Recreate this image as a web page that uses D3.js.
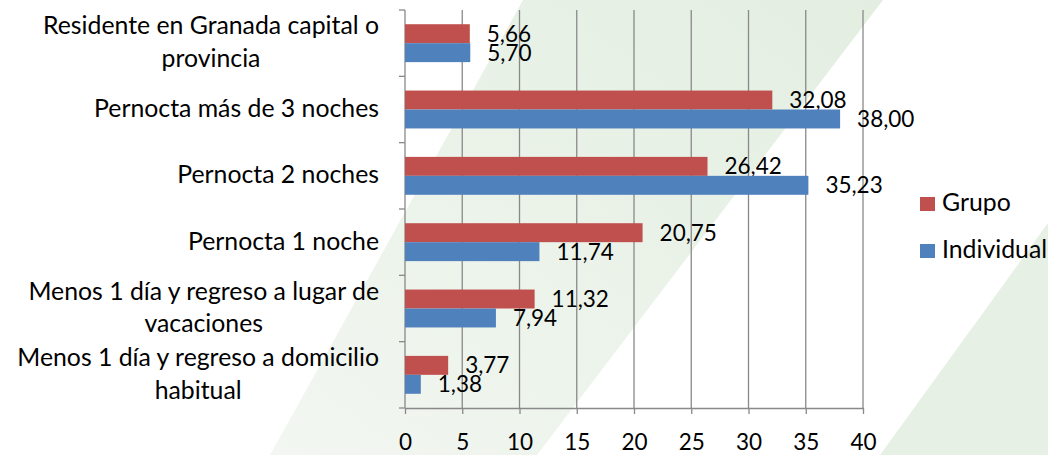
<!DOCTYPE html>
<html>
<head>
<meta charset="utf-8">
<script src="https://cdn.jsdelivr.net/npm/d3@7"></script>
<style>
  body { margin: 0; background: #fff; }
  svg { display: block; font-family: Lato, "Open Sans", sans-serif; }
</style>
</head>
<body>
<div id="chart"></div>
<script>
// Data (top to bottom as shown in the chart)
const categories = [
    "Residente en Granada capital o provincia",
    "Pernocta más de 3 noches",
    "Pernocta 2 noches",
    "Pernocta 1 noche",
    "Menos 1 día y regreso a lugar de vacaciones",
    "Menos 1 día y regreso a domicilio habitual"
];
// how each category label wraps
const categoryLines = [
    ["Residente en Granada capital o", "provincia"],
    ["Pernocta más de 3 noches"],
    ["Pernocta 2 noches"],
    ["Pernocta 1 noche"],
    ["Menos 1 día y regreso a lugar de", "vacaciones"],
    ["Menos 1 día y regreso a domicilio", "habitual"]
];
const series = ["Grupo", "Individual"];
const grupo = [5.66, 32.08, 26.42, 20.75, 11.32, 3.77];
const individual = [5.70, 38.00, 35.23, 11.74, 7.94, 1.38];
const xTicks = [0, 5, 10, 15, 20, 25, 30, 35, 40];

const colors = { "Grupo": "#C0504D", "Individual": "#4F81BD" };
const values = { "Grupo": grupo, "Individual": individual };

const width = 1048;
const height = 455;
const numSize = 22.5;   // digits
const labelSize = 24.8; // words

const svg = d3.select("#chart")
    .append("svg")
    .attr("width", width)
    .attr("height", height);

// background decoration (light green diagonal bands)
const defs = svg.append("defs");
const grad = defs.append("linearGradient")
    .attr("id", "band")
    .attr("x1", "1").attr("y1", "0")
    .attr("x2", "0").attr("y2", "1");
grad.append("stop").attr("offset", "0").attr("stop-color", "#e3eee1");
grad.append("stop").attr("offset", "1").attr("stop-color", "#f2f7f1");

svg.append("polygon")
    .attr("points", "523,0 883,0 537,455 270,455")
    .attr("fill", "url(#band)");
svg.append("polygon")
    .attr("points", "1048,223 1048,455 880,455")
    .attr("fill", "#e7f0e5");

// scales
const x = d3.scaleLinear().domain([0, 40]).range([405, 863]);
const y = d3.scaleBand().domain(categories).range([10, 408]);
const ySub = d3.scaleBand().domain(series).range([0, y.bandwidth()]).paddingOuter(0.75);

// vertical gridlines
svg.append("g")
    .selectAll("line")
    .data(xTicks.filter(d => d > 0))
    .enter()
    .append("line")
    .attr("x1", d => x(d))
    .attr("x2", d => x(d))
    .attr("y1", 10)
    .attr("y2", 408)
    .attr("stroke", "#898989")
    .attr("stroke-width", 1.3);

// x axis
const xAxis = svg.append("g")
    .attr("transform", "translate(0,408)")
    .call(d3.axisBottom(x).tickValues(xTicks).tickSize(6).tickSizeOuter(0).tickPadding(20));
xAxis.select(".domain").attr("stroke", "#898989").attr("stroke-width", 1.3);
xAxis.selectAll(".tick line").attr("stroke", "#898989").attr("stroke-width", 1.3);
xAxis.selectAll(".tick text")
    .attr("font-family", "Lato")
    .attr("font-size", numSize)
    .attr("fill", "#000")
    .attr("dy", "0.71em");

// y axis line with ticks at category boundaries
const boundaries = categories.map(c => y(c)).concat([408]);
svg.append("line")
    .attr("x1", 405).attr("x2", 405)
    .attr("y1", 10).attr("y2", 408)
    .attr("stroke", "#898989").attr("stroke-width", 1.3);
svg.append("g")
    .selectAll("line")
    .data(boundaries)
    .enter()
    .append("line")
    .attr("x1", 399).attr("x2", 405)
    .attr("y1", d => d).attr("y2", d => d)
    .attr("stroke", "#898989").attr("stroke-width", 1.3);

// bars and labels
series.forEach(s => {
    const g = svg.append("g");
    g.selectAll("rect")
        .data(categories.map((c, i) => ({ c: c, v: values[s][i] })))
        .enter()
        .append("rect")
        .attr("x", x(0))
        .attr("y", d => y(d.c) + ySub(s))
        .attr("width", d => x(d.v) - x(0))
        .attr("height", ySub.bandwidth())
        .attr("fill", colors[s]);

    g.selectAll("text")
        .data(categories.map((c, i) => ({ c: c, v: values[s][i] })))
        .enter()
        .append("text")
        .attr("x", d => x(d.v) + 17)
        .attr("y", d => y(d.c) + ySub(s) + ySub.bandwidth() / 2)
        .attr("dy", "0.36em")
        .attr("font-size", numSize)
        .attr("fill", "#000")
        .text(d => d.v.toFixed(2).replace(".", ","));
});

// category labels (centered block, right edge at 379)
categories.forEach((c, i) => {
    const lines = categoryLines[i];
    const g = svg.append("g");
    const texts = lines.map((line, j) => g.append("text")
        .attr("font-size", labelSize)
        .attr("fill", "#000")
        .attr("text-anchor", "middle")
        .attr("y", y(c) + y.bandwidth() / 2 + 7.5 + (j - (lines.length - 1) / 2) * 32.5)
        .text(line));
    const maxW = d3.max(texts, t => t.node().getComputedTextLength());
    texts.forEach(t => t.attr("x", 379 - maxW / 2));
});

// legend
const legend = svg.append("g");
series.forEach((s, i) => {
    legend.append("rect")
        .attr("x", 920)
        .attr("y", 197 + i * 47)
        .attr("width", 15)
        .attr("height", 14)
        .attr("fill", colors[s]);
    legend.append("text")
        .attr("x", 942)
        .attr("y", 211 + i * 47)
        .attr("font-size", labelSize)
        .attr("fill", "#000")
        .text(s);
});
</script>
</body>
</html>
